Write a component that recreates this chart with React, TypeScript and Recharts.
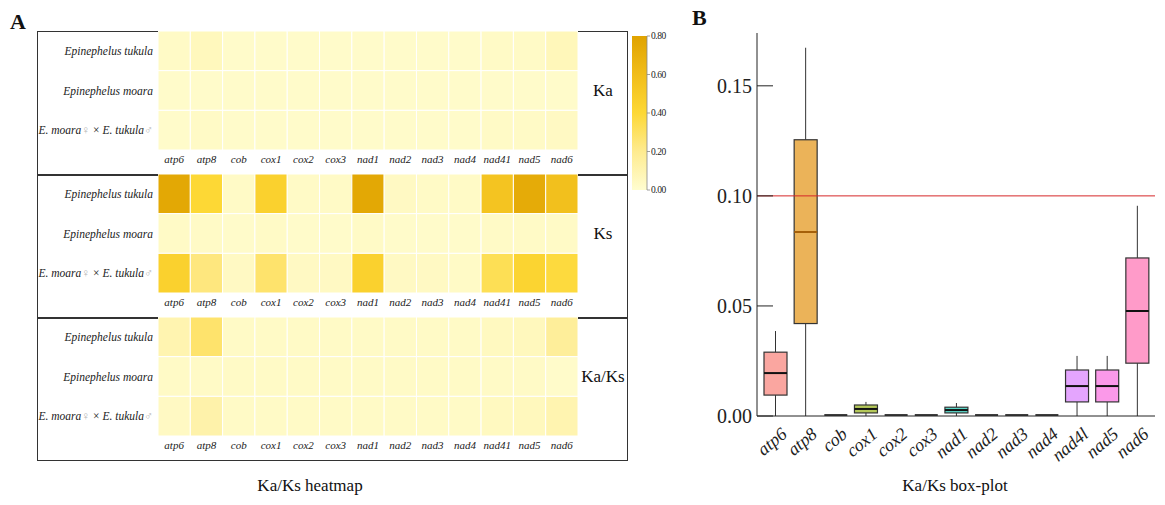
import React from "react";
import { ScatterChart, Scatter, XAxis, YAxis, ComposedChart, Bar, ReferenceLine } from "recharts";

// genes on the heatmap columns
const genes = ["atp6", "atp8", "cob", "cox1", "cox2", "cox3", "nad1", "nad2", "nad3", "nad4", "nad41", "nad5", "nad6"];
// heatmap rows, top to bottom
const species = ["Epinephelus tukula", "Epinephelus moara", "hybrid"];

// Ka
const kaTukula = [0.03, 0.06, 0.02, 0.02, 0.02, 0.02, 0.02, 0.02, 0.02, 0.02, 0.03, 0.03, 0.07];
const kaMoara = [0.02, 0.02, 0.02, 0.02, 0.02, 0.02, 0.02, 0.02, 0.02, 0.02, 0.02, 0.02, 0.02];
const kaHybrid = [0.02, 0.03, 0.02, 0.02, 0.02, 0.02, 0.02, 0.02, 0.02, 0.02, 0.03, 0.03, 0.04];

// Ks
const ksTukula = [0.76, 0.4, 0.03, 0.45, 0.03, 0.03, 0.76, 0.04, 0.03, 0.03, 0.55, 0.74, 0.58];
const ksMoara = [0.03, 0.03, 0.02, 0.03, 0.02, 0.02, 0.03, 0.02, 0.02, 0.02, 0.03, 0.03, 0.03];
const ksHybrid = [0.45, 0.24, 0.04, 0.28, 0.04, 0.04, 0.45, 0.04, 0.04, 0.03, 0.33, 0.43, 0.38];

// Ka/Ks
const kaksTukula = [0.1, 0.28, 0.03, 0.03, 0.03, 0.03, 0.03, 0.03, 0.03, 0.03, 0.05, 0.06, 0.17];
const kaksMoara = [0.03, 0.03, 0.03, 0.03, 0.03, 0.03, 0.03, 0.03, 0.03, 0.03, 0.03, 0.03, 0.02];
const kaksHybrid = [0.04, 0.12, 0.03, 0.03, 0.03, 0.03, 0.03, 0.03, 0.03, 0.03, 0.05, 0.06, 0.1];

const colorTicks = [0, 0.2, 0.4, 0.6, 0.8];

// box-plot summary of Ka/Ks per gene
const boxGenes = ["atp6", "atp8", "cob", "cox1", "cox2", "cox3", "nad1", "nad2", "nad3", "nad4", "nad4l", "nad5", "nad6"];
const boxMin = [0, 0, 0, 0, 0, 0, 0, 0, 0, 0, 0, 0, 0];
const boxQ1 = [0.0095, 0.042, 0, 0.0014, 0, 0, 0.0014, 0, 0, 0, 0.0064, 0.0064, 0.024];
const boxMedian = [0.0195, 0.0836, 0, 0.0032, 0, 0, 0.0027, 0, 0, 0, 0.0136, 0.0136, 0.0477];
const boxQ3 = [0.029, 0.1255, 0, 0.005, 0, 0, 0.004, 0, 0, 0, 0.0209, 0.0209, 0.0718];
const boxMax = [0.0386, 0.1673, 0, 0.0064, 0, 0, 0.0059, 0, 0, 0, 0.0273, 0.0273, 0.0955];
const yTicks = [0, 0.05, 0.1, 0.15];

const FONT = "'Liberation Serif', 'Times New Roman', serif";

const hue: Record<string, string> = {
  atp6: "#F8766D", atp8: "#E18A00", cob: "#BE9C00", cox1: "#8CAB00", cox2: "#24B700",
  cox3: "#00BE70", nad1: "#00C1AB", nad2: "#00BBDA", nad3: "#00ACFC", nad4: "#8B93FF",
  nad4l: "#D575FE", nad5: "#F962DD", nad6: "#FF65AC",
};

// yellow ramp used by the heatmap and its legend
const rampStops: [number, number[]][] = [
  [0, [255, 253, 208]],
  [0.2, [254, 235, 144]],
  [0.4, [253, 216, 53]],
  [0.6, [241, 189, 26]],
  [0.8, [224, 163, 0]],
];
function heatColor(v: number) {
  const t = Math.max(0, Math.min(0.8, v));
  for (let i = 1; i < rampStops.length; i++) {
    const [v0, c0] = rampStops[i - 1];
    const [v1, c1] = rampStops[i];
    if (t <= v1) {
      const f = (t - v0) / (v1 - v0);
      const c = c0.map((a, k) => Math.round(a + (c1[k] - a) * f));
      return `rgb(${c[0]},${c[1]},${c[2]})`;
    }
  }
  return "rgb(224,163,0)";
}

const panels = [
  { label: "Ka", rows: [kaTukula, kaMoara, kaHybrid] },
  { label: "Ks", rows: [ksTukula, ksMoara, ksHybrid] },
  { label: "Ka/Ks", rows: [kaksTukula, kaksMoara, kaksHybrid] },
];

const PANEL_W = 590;
const PANEL_H = 143;
const PLOT_LEFT = 121;
const PLOT_RIGHT = 49;
const AXIS_H = 24;
const CELL_W = (PANEL_W - PLOT_LEFT - PLOT_RIGHT) / genes.length;
const CELL_H = (PANEL_H - AXIS_H) / species.length;

const HeatCell = (p: any) => (
  <rect
    x={p.cx - CELL_W / 2}
    y={p.cy - CELL_H / 2}
    width={CELL_W}
    height={CELL_H}
    fill={heatColor(p.payload.value)}
    stroke="#fff"
    strokeWidth={1}
  />
);

const SpeciesTick = ({ x, y, payload }: any) => {
  const name = species[payload.value];
  if (name === "hybrid") {
    return (
      <text x={x} y={y} dy="0.35em" textAnchor="end" fontSize={11.5} fontFamily={FONT} fill="#222">
        <tspan fontStyle="italic">E. moara</tspan>
        <tspan fill="#b5b5b5" fontSize={12}>♀</tspan>
        <tspan> × </tspan>
        <tspan fontStyle="italic">E. tukula</tspan>
        <tspan fill="#b5b5b5" fontSize={12}>♂</tspan>
      </text>
    );
  }
  return (
    <text x={x} y={y} dy="0.35em" textAnchor="end" fontSize={11.5} fontStyle="italic" fontFamily={FONT} fill="#222">
      {name}
    </text>
  );
};

function HeatPanel({ rows }: { rows: number[][] }) {
  const points = rows.flatMap((vals, r) => vals.map((value, c) => ({ col: c, row: r, value })));
  return (
    <ScatterChart width={PANEL_W} height={PANEL_H} margin={{ top: 0, right: PLOT_RIGHT, bottom: 0, left: 0 }}>
      <XAxis
        type="number"
        dataKey="col"
        domain={[-0.5, genes.length - 0.5]}
        ticks={genes.map((_, i) => i)}
        tickFormatter={(i: number) => genes[i]}
        interval={0}
        axisLine={false}
        tickLine={false}
        tickSize={0}
        tickMargin={5}
        height={AXIS_H}
        allowDataOverflow
        tick={{ fontSize: 11, fontStyle: "italic", fontFamily: FONT, fill: "#222" }}
      />
      <YAxis
        type="number"
        dataKey="row"
        domain={[-0.5, species.length - 0.5]}
        ticks={species.map((_, i) => i)}
        reversed
        interval={0}
        axisLine={false}
        tickLine={false}
        tickSize={0}
        tickMargin={5}
        width={PLOT_LEFT}
        allowDataOverflow
        tick={<SpeciesTick />}
      />
      <Scatter data={points} shape={HeatCell} isAnimationActive={false} />
    </ScatterChart>
  );
}

function ColorBar() {
  const top = 6;
  const h = 154;
  const y = (v: number) => top + h - (v / 0.8) * h;
  return (
    <svg width={50} height={170} style={{ position: "absolute", left: 630, top: 30 }}>
      <defs>
        <linearGradient id="ramp" x1="0" y1="1" x2="0" y2="0">
          {rampStops.map(([v]) => (
            <stop key={v} offset={v / 0.8} stopColor={heatColor(v)} />
          ))}
        </linearGradient>
      </defs>
      <rect x={2} y={top} width={15} height={h} fill="url(#ramp)" />
      <line x1={17} x2={17} y1={top} y2={top + h} stroke="#888" strokeWidth={0.8} />
      {colorTicks.map((v) => (
        <g key={v}>
          <line x1={17} x2={20} y1={y(v)} y2={y(v)} stroke="#888" strokeWidth={0.8} />
          <text x={21} y={y(v)} dy="0.35em" fontSize={9.5} fontFamily={FONT} fill="#222" letterSpacing={-0.5}>
            {v.toFixed(2)}
          </text>
        </g>
      ))}
    </svg>
  );
}

const boxData = boxGenes.map((gene, i) => ({
  gene,
  min: boxMin[i],
  q1: boxQ1[i],
  median: boxMedian[i],
  q3: boxQ3[i],
  max: boxMax[i],
  range: [boxMin[i], boxMax[i]],
}));

const BoxShape = (props: any) => {
  const { x, y, width, height, payload } = props;
  const { gene, min, q1, median, q3, max } = payload;
  const cx = x + width / 2;
  const top = Math.min(y, y + height);
  const span = Math.abs(height);
  if (max === min || span === 0) {
    // all-zero genes collapse to a flat bar on the baseline
    return <rect x={x} y={top - 2} width={width} height={3.5} fill="#3d3d3d" />;
  }
  const k = span / (max - min);
  const py = (v: number) => top + (max - v) * k;
  const medianStroke = gene === "atp8" ? "#a5600a" : "#111";
  return (
    <g>
      <line x1={cx} x2={cx} y1={py(max)} y2={py(q3)} stroke="#333" strokeWidth={1} />
      <line x1={cx} x2={cx} y1={py(q1)} y2={py(min)} stroke="#333" strokeWidth={1} />
      <rect
        x={x}
        y={py(q3)}
        width={width}
        height={py(q1) - py(q3)}
        fill={hue[gene]}
        fillOpacity={0.65}
        stroke="#333"
        strokeWidth={1.2}
      />
      <line x1={x} x2={x + width} y1={py(median)} y2={py(median)} stroke={medianStroke} strokeWidth={2} />
    </g>
  );
};

const BoxXTick = ({ x, y, payload }: any) => (
  <text
    x={x + 13}
    y={y + 20}
    transform={`rotate(-40, ${x + 13}, ${y + 20})`}
    textAnchor="end"
    fontSize={18}
    fontStyle="italic"
    fontFamily={FONT}
    fill="#222"
  >
    {payload.value}
  </text>
);

const BoxYTick = ({ x, y, payload }: any) => (
  <g>
    <line x1={x} x2={x + 16} y1={y} y2={y} stroke="#222" strokeWidth={1} />
    <text x={x - 5} y={y} dy="0.35em" textAnchor="end" fontSize={20} fontFamily={FONT} fill="#222">
      {payload.value.toFixed(2)}
    </text>
  </g>
);

export default function App() {
  return (
    <div
      style={{
        position: "absolute",
        left: 0,
        top: 0,
        width: 1165,
        height: 505,
        background: "#fff",
        fontFamily: FONT,
        color: "#111",
      }}
    >
      <div style={{ position: "absolute", left: 10, top: 9, fontSize: 22, fontWeight: "bold" }}>A</div>
      <div style={{ position: "absolute", left: 692, top: 5, fontSize: 22, fontWeight: "bold" }}>B</div>

      {/* heatmap frame */}
      <div
        style={{
          position: "absolute",
          left: 37,
          top: 31,
          width: 591,
          height: 430,
          border: "1.5px solid #333",
          boxSizing: "border-box",
        }}
      />
      {[1, 2].map((i) => (
        <div
          key={i}
          style={{ position: "absolute", left: 37, top: 31 + PANEL_H * i, width: 591, height: 1.5, background: "#333" }}
        />
      ))}

      {panels.map((p, i) => (
        <div key={p.label} style={{ position: "absolute", left: 37, top: 31 + PANEL_H * i }}>
          <HeatPanel rows={p.rows} />
          <div
            style={{
              position: "absolute",
              left: 536,
              width: 60,
              top: 50,
              textAlign: "center",
              fontSize: 17,
            }}
          >
            {p.label}
          </div>
        </div>
      ))}

      <ColorBar />

      <div style={{ position: "absolute", left: 210, width: 200, top: 476, textAlign: "center", fontSize: 17 }}>
        Ka/Ks heatmap
      </div>

      <div style={{ position: "absolute", left: 690, top: 0 }}>
        <ComposedChart width={475} height={470} data={boxData} margin={{ top: 33, right: 10, bottom: 0, left: 0 }}>
          <XAxis
            dataKey="gene"
            interval={0}
            height={54}
            padding={{ left: 3, right: 3 }}
            axisLine={{ stroke: "#222", strokeWidth: 1 }}
            tickLine={false}
            tickSize={0}
            tickMargin={0}
            tick={<BoxXTick />}
          />
          <YAxis
            type="number"
            domain={[0, 0.174]}
            ticks={yTicks}
            width={67}
            allowDataOverflow
            axisLine={{ stroke: "#222", strokeWidth: 1 }}
            tickLine={false}
            tickSize={0}
            tickMargin={0}
            tick={<BoxYTick />}
          />
          <ReferenceLine y={0.1} stroke="#d62728" strokeWidth={1} />
          <Bar dataKey="range" barSize={23} shape={BoxShape} isAnimationActive={false} />
        </ComposedChart>
      </div>

      <div style={{ position: "absolute", left: 855, width: 200, top: 476, textAlign: "center", fontSize: 17 }}>
        Ka/Ks box-plot
      </div>
    </div>
  );
}
